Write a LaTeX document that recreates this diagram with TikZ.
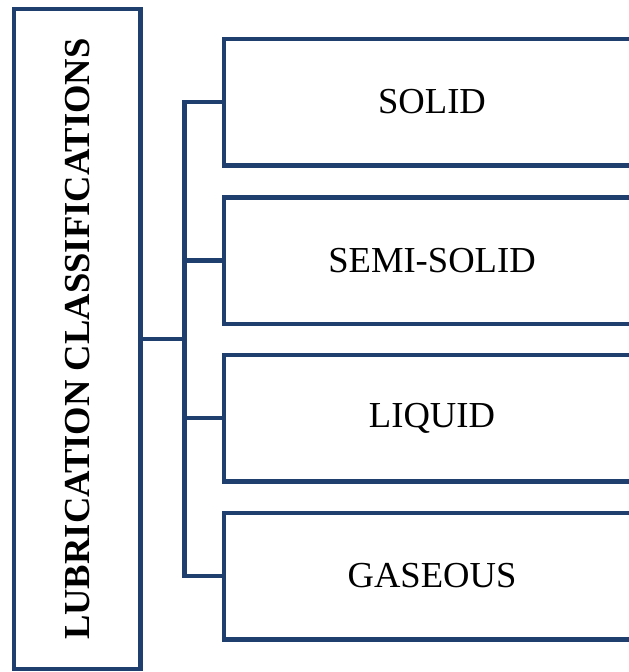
\documentclass[tikz,border=0pt]{standalone}
\usepackage{fontspec}
\setmainfont{Liberation Serif}
\definecolor{boxblue}{RGB}{31,63,110}
\tikzset{
  frame/.style={draw=boxblue, line width=4.5pt, inner sep=0pt},
  kind/.style={frame, minimum width=416pt, minimum height=126.5pt,
    font=\fontsize{36.6}{40}\selectfont},
  wire/.style={draw=boxblue, line width=4.5pt, line cap=rect}
}

\begin{document}
\begin{tikzpicture}[x=1pt,y=-1pt]
\useasboundingbox (0,0) rectangle (629,672);
\clip (0,0) rectangle (629,672);
\node[frame,rotate=90,minimum width=660pt,minimum height=126.5pt,
  font=\bfseries\fontsize{36.6}{40}\selectfont] (main) at (77.25,339) {LUBRICATION CLASSIFICATIONS};
\node[kind] (solid) at (432,102) {SOLID};
\node[kind] (semi) at (432,260.5) {SEMI-SOLID};
\node[kind] (liquid) at (432,418) {LIQUID};
\node[kind] (gas) at (432,576) {GASEOUS};
\draw[wire] (main.south) -- ++(41.5,0) coordinate (fork);
\draw[wire] (fork |- solid.west) -- (fork |- gas.west);
\foreach \to in {solid,semi,liquid,gas}
  \draw[wire] (fork |- \to.west) -- (\to.west);
\end{tikzpicture}
\end{document}
